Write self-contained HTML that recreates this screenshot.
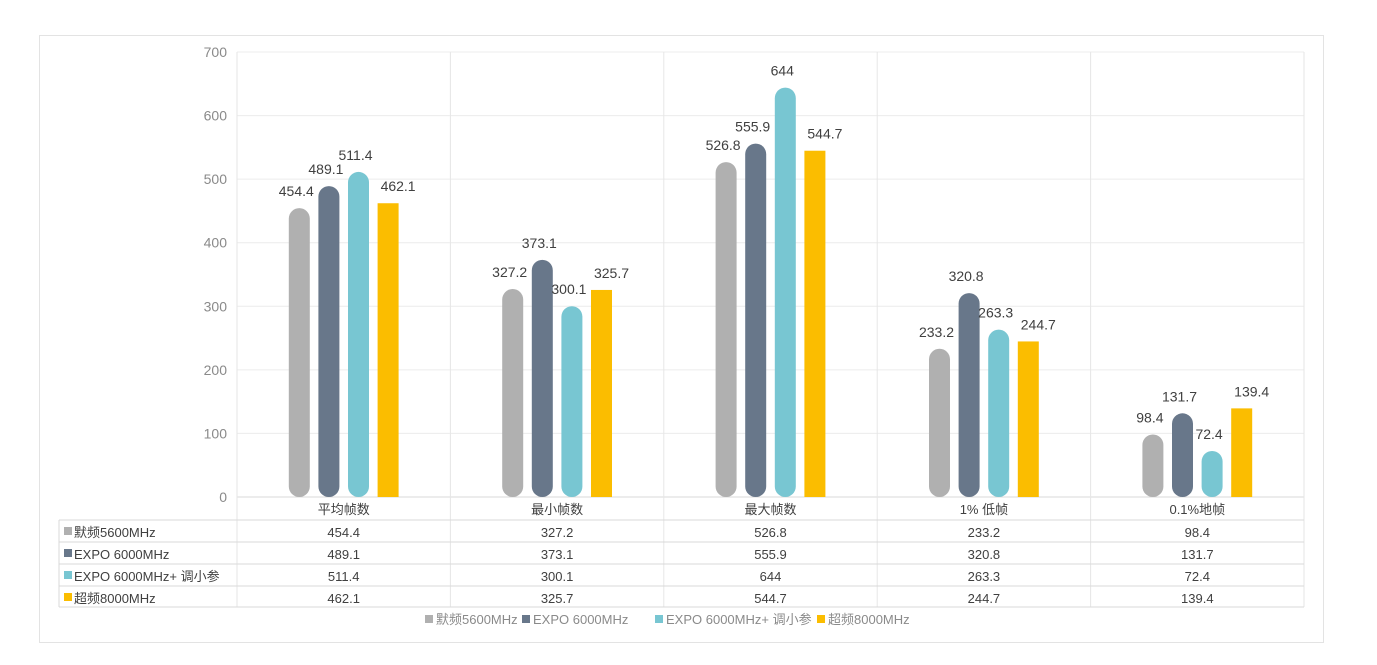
<!DOCTYPE html>
<html><head><meta charset="utf-8"><style>
body{margin:0;background:#fff;font-family:"Liberation Sans","Noto Sans CJK SC",sans-serif;}
svg text{font-family:"Liberation Sans","Noto Sans CJK SC",sans-serif;}
</style></head><body>
<svg id="c" width="1377" height="660" xmlns="http://www.w3.org/2000/svg">
<rect x="39.5" y="35.5" width="1284" height="607" fill="#fff" stroke="#e3e3e3"/>
<g id="g"></g>
</svg>
<script>
const categories=["平均帧数","最小帧数","最大帧数","1% 低帧","0.1%地帧"];
const seriesNames=["默频5600MHz","EXPO 6000MHz","EXPO 6000MHz+ 调小参","超频8000MHz"];
const s1=[454.4,327.2,526.8,233.2,98.4];
const s2=[489.1,373.1,555.9,320.8,131.7];
const s3=[511.4,300.1,644,263.3,72.4];
const s4=[462.1,325.7,544.7,244.7,139.4];
const ticks=[0,100,200,300,400,500,600,700];
const series=[s1,s2,s3,s4];
const colors=["#b0b0b0","#68778a","#78c6d2","#fbbd00"];
const NS="http://www.w3.org/2000/svg";
const g=document.getElementById('g');
const X0=237,X1=1304,Y0=497,Y1=52;
const cw=(X1-X0)/categories.length;
const y=v=>Y0-(v/700)*(Y0-Y1);
const xc=i=>X0+cw*(i+0.5);
function el(t,a,txt){const e=document.createElementNS(NS,t);for(const k in a)e.setAttribute(k,a[k]);if(txt!=null)e.textContent=txt;g.appendChild(e);return e;}
ticks.forEach(t=>{
 const l=el('line',{x1:X0,x2:X1,y1:y(t),y2:y(t),stroke:t?'#ececec':'#d9d9d9'});
 
 
 const tx=el('text',{x:227,y:y(t)+5,'text-anchor':'end','font-size':14,fill:'#8a8a8a'},t);
 
 
});
for(let i=0;i<=categories.length;i++){
 const l=el('line',{x1:X0+cw*i,x2:X0+cw*i,y1:Y1,y2:607,stroke:'#e6e6e6'});
 
 
}
const bw=21,gap=29.6;
categories.forEach((c,i)=>{
 series.forEach((s,j)=>{
  const cx=xc(i)+(j-1.5)*gap, top=y(s[i]);
  let b;
  if(j<3){
   const r=bw/2;
   b=el('path',{d:`M${cx-r},${Y0-r} L${cx-r},${top+r} A${r},${r} 0 0 1 ${cx+r},${top+r} L${cx+r},${Y0-r} A${r},${r} 0 0 1 ${cx-r},${Y0-r}Z`,fill:colors[j]});
  } else b=el('rect',{x:cx-bw/2,y:top,width:bw,height:Y0-top,fill:colors[j]});
  
  
  const lx=j<3?cx-3:cx+10;
  const t=el('text',{x:lx,y:top-12,'text-anchor':'middle','font-size':14,fill:'#404040'},s[i]);
  
  
 });
});
const rows=[497,520,542,564,586,607];
for(let r=1;r<rows.length;r++){
 const l=el('line',{x1:59,x2:X1,y1:rows[r],y2:rows[r],stroke:'#d9d9d9'});
 
 
}
const vl=el('line',{x1:59,x2:59,y1:520,y2:607,stroke:'#d9d9d9'});


categories.forEach((c,i)=>{
 const t=el('text',{x:xc(i),y:514,'text-anchor':'middle','font-size':13,fill:'#404040'},c);
 
 
 series.forEach((s,j)=>{
  const v=el('text',{x:xc(i),y:rows[j+1]+17,'text-anchor':'middle','font-size':13,fill:'#404040'},s[i]);
  
  
 });
});
seriesNames.forEach((n,j)=>{
 const k=el('rect',{x:64,y:rows[j+1]+7,width:8,height:8,fill:colors[j]});
 
 
 const t=el('text',{x:74,y:rows[j+1]+17,'font-size':13,fill:'#404040'},n);
 
 
});
const lxs=[425,522,655,817];
seriesNames.forEach((n,j)=>{
 const k=el('rect',{x:lxs[j],y:615,width:8,height:8,fill:colors[j]});
 
 
 const t=el('text',{x:lxs[j]+11,y:624,'font-size':13,fill:'#8a8a8a'},n);
 
 
});
</script>
</body></html>
